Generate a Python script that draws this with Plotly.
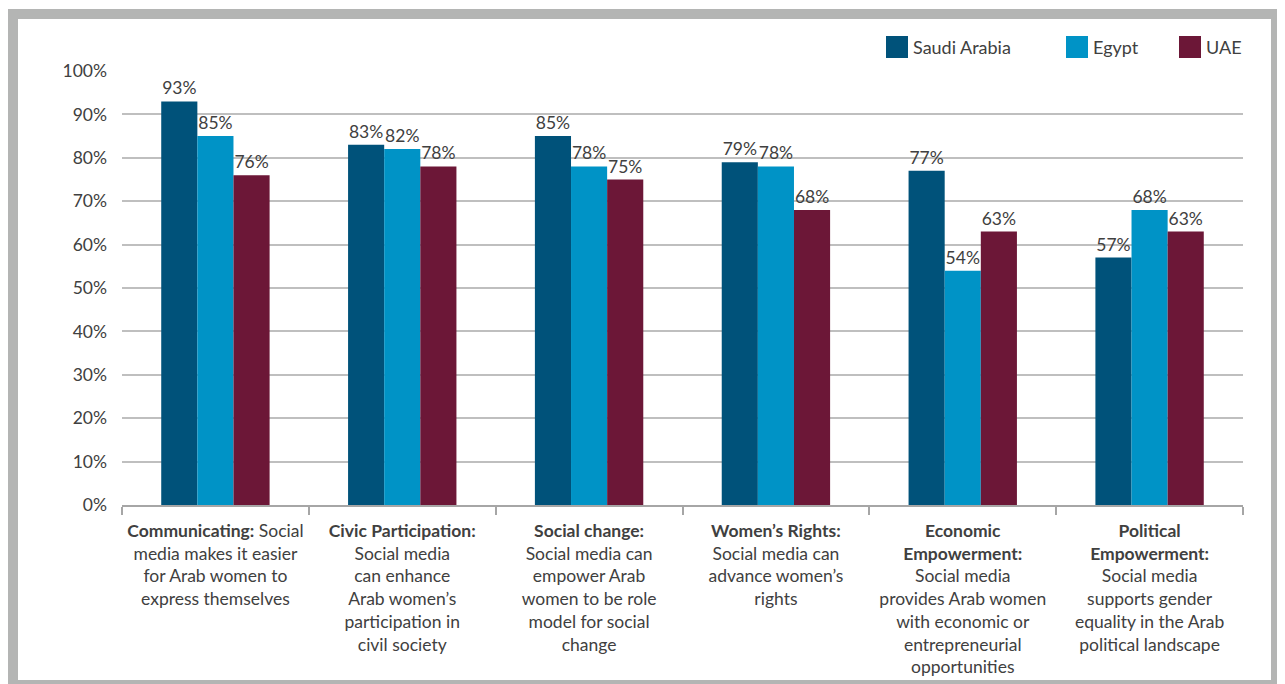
import plotly.graph_objects as go

categories = ["Communicating", "Civic Participation", "Social change", "Women's Rights",
              "Economic Empowerment", "Political Empowerment"]
category_labels = [
    "<b>Communicating:</b> Social<br>media makes it easier<br>for Arab women to<br>express themselves",
    "<b>Civic Participation:</b><br>Social media<br>can enhance<br>Arab women’s<br>participation in<br>civil society",
    "<b>Social change:</b><br>Social media can<br>empower Arab<br>women to be role<br>model for social<br>change",
    "<b>Women’s Rights:</b><br>Social media can<br>advance women’s<br>rights",
    "<b>Economic</b><br><b>Empowerment:</b><br>Social media<br>provides Arab women<br>with economic or<br>entrepreneurial<br>opportunities",
    "<b>Political</b><br><b>Empowerment:</b><br>Social media<br>supports gender<br>equality in the Arab<br>political landscape",
]
series_names = ["Saudi Arabia", "Egypt", "UAE"]
saudi = [93, 83, 85, 79, 77, 57]
egypt = [85, 82, 78, 78, 54, 68]
uae = [76, 78, 75, 68, 63, 63]
y_ticks = [0, 10, 20, 30, 40, 50, 60, 70, 80, 90, 100]

colors = ["#00527A", "#0093C6", "#6C1737"]
FONT = "Lato"
TXT = "#404040"

OFF = 8  # page body margin
W, H = 1285 - OFF, 684 - OFF
L, T = 122 - OFF, 71 - OFF
R = W - (1243 - OFF)
B = H - (505 - OFF)
pw, ph = W - L - R, H - T - B


def px(x):
    return (x - OFF - L) / pw


def py(y):
    return (H - B - (y - OFF)) / ph


fig = go.Figure()
for name, vals, col in zip(series_names, [saudi, egypt, uae], colors):
    fig.add_trace(go.Bar(
        x=categories, y=vals, name=name, marker_color=col, marker_line_width=0,
        text=[f"{v}%" for v in vals], textposition="outside",
        textfont=dict(family=FONT, size=17.5, color=TXT), cliponaxis=False,
        showlegend=False,
    ))

shapes = [
    dict(type="rect", xref="paper", yref="paper", x0=px(8), x1=px(1300), y0=py(9), y1=py(700),
         fillcolor="#B4B5B4", line_width=0, layer="below"),
    dict(type="rect", xref="paper", yref="paper", x0=px(18), x1=px(1271), y0=py(19), y1=py(680),
         fillcolor="white", line_width=0, layer="below"),
]
annotations = []
legend_x = [886, 1066, 1179]
for name, col, lx in zip(series_names, colors, legend_x):
    shapes.append(dict(type="rect", xref="paper", yref="paper", x0=px(lx), x1=px(lx + 22),
                       y0=py(36), y1=py(58), fillcolor=col, line_width=0))
    annotations.append(dict(xref="paper", yref="paper", x=px(lx + 25), y=py(47), text=name,
                            showarrow=False, xanchor="left", yanchor="middle",
                            font=dict(family=FONT, size=18, color=TXT)))

fig.update_layout(
    width=W, height=H, margin=dict(l=L, r=R, t=T, b=B, autoexpand=False),
    paper_bgcolor="white", plot_bgcolor="rgba(0,0,0,0)",
    barmode="group", bargap=0.42, bargroupgap=0,
    shapes=shapes, annotations=annotations,
    font=dict(family=FONT, color=TXT),
)
fig.update_xaxes(
    tickmode="array", tickvals=categories, ticktext=category_labels,
    tickfont=dict(family=FONT, size=17.5, color=TXT),
    showline=True, linecolor="#A6A6A6", linewidth=1.5,
    ticks="outside", tickson="boundaries", ticklen=8, tickcolor="#A6A6A6", tickwidth=1.5,
    showgrid=False, ticklabelstandoff=9,
)
fig.update_yaxes(
    range=[0, 100], tickmode="array", tickvals=y_ticks, ticktext=[f"{v}%" for v in y_ticks],
    tickfont=dict(family=FONT, size=17.5, color=TXT),
    showgrid=True, gridcolor="#BFBFBF", gridwidth=1.5, zeroline=False,
    ticklabelstandoff=14,
)
fig.write_html("out.html")
